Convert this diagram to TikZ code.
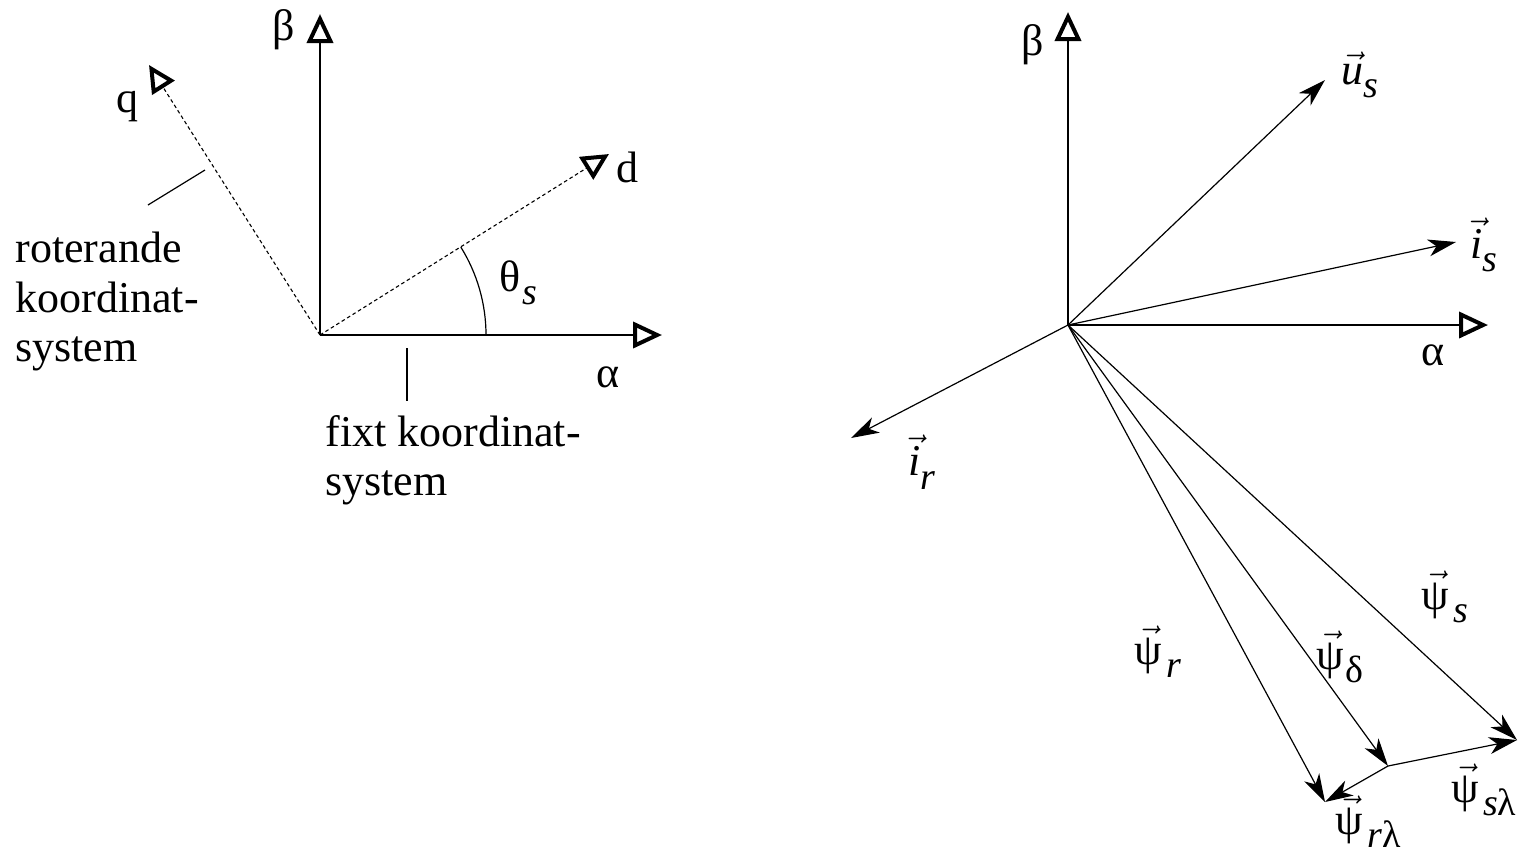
\documentclass[tikz,border=0pt]{standalone}
\usepackage{fontspec}
\setmainfont{Liberation Serif}
\usetikzlibrary{arrows.meta}
\newcommand\vect[1]{\ensuremath{\vec{\mbox{#1}}}}
\newcommand\lsub[1]{\raisebox{-0.3em}{\fontsize{19}{19}\selectfont #1}}
\tikzset{
  axisline/.style={line width=0.6pt,-{Triangle[open,length=14.5pt,width=13pt,line width=2pt]}},
  dashaxis/.style={line width=0.55pt,dash pattern=on 1.8pt off 1.4pt,-{Triangle[open,length=13.5pt,width=13pt,line width=2pt]}},
  vecline/.style={line width=0.6pt,-{Stealth[length=14pt,width=8.5pt,inset=4pt]}},
  plainline/.style={line width=0.6pt},
  lbl/.style={inner sep=0pt,font=\fontsize{22}{24.75}\selectfont},
  txtblock/.style={inner sep=0pt,align=left,font=\fontsize{22}{24.75}\selectfont}
}
\begin{document}
\begin{tikzpicture}[x=0.5pt,y=-0.5pt]
\useasboundingbox (0,0) rectangle (1521,853);
% ---------- left diagram ----------
\coordinate (O1) at (320,335);
\coordinate (B1) at (320,14);
\coordinate (A1) at (662,335);
\coordinate (D1) at (609,154);
\coordinate (Q1) at (149,65);
\coordinate (R1) at (205,170);
\coordinate (R2) at (148,205);
\coordinate (F1) at (407,348);
\coordinate (F2) at (407,401);
\coordinate (ARC) at (486,335);
\draw[axisline] (O1) -- (B1);
\draw[axisline] (O1) -- (A1);
\draw[dashaxis] (O1) -- (D1);
\draw[dashaxis] (O1) -- (Q1);
\draw[plainline] (ARC) arc[start angle=0,end angle=32,radius=83pt];
\draw[plainline] (R1) -- (R2);
\draw[plainline] (F1) -- (F2);
\node[lbl] (lb1) at (284,30) {β};
\node[lbl] (lq) at (127,107) {q};
\node[lbl] (ld) at (627,167) {d};
\node[lbl] (lth) at (518,283) {θ\kern1pt\lsub{\textit{s}}};
\node[lbl] (la1) at (608,377) {α};
\node[txtblock,anchor=north west] (rot) at (15,232) {roterande\\koordinat-\\system};
\node[txtblock,anchor=north west] (fix) at (325,415) {fixt koordinat-\\system};
% ---------- right diagram ----------
\coordinate (O2) at (1068,325);
\coordinate (B2) at (1068,12);
\coordinate (A2) at (1488,325);
\coordinate (U) at (1325,80);
\coordinate (IS) at (1456,242);
\coordinate (IR) at (851,438);
\coordinate (PS) at (1517,740);
\coordinate (PD) at (1388,766);
\coordinate (PR) at (1325,802);
\draw[axisline] (O2) -- (B2);
\draw[axisline] (O2) -- (A2);
\draw[vecline] (O2) -- (U);
\draw[vecline] (O2) -- (IS);
\draw[vecline] (O2) -- (IR);
\draw[vecline] (O2) -- (PS);
\draw[vecline] (O2) -- (PD);
\draw[vecline] (O2) -- (PR);
\draw[vecline] (PD) -- (PS);
\draw[vecline] (PD) -- (PR);
\node[lbl] (lb2) at (1033,45) {β};
\node[lbl] (la2) at (1433,355) {α};
\node[lbl] (lu) at (1360,75) {\vect{\textit{u}}\lsub{\textit{s}}};
\node[lbl] (lis) at (1484,245) {\vect{\textit{i}}\lsub{\textit{s}}};
\node[lbl] (lir) at (922,462) {\vect{\textit{i}}\lsub{\textit{r}}};
\node[lbl] (lps) at (1445,597) {\vect{ψ}\kern2pt\lsub{\textit{s}}};
\node[lbl] (lpr) at (1158,652) {\vect{ψ}\kern2pt\lsub{\textit{r}}};
\node[lbl] (lpd) at (1340,657) {\vect{ψ}\kern1pt\lsub{δ}};
\node[lbl] (lpsl) at (1484,790) {\vect{ψ}\kern2pt\lsub{\textit{s}λ}};
\node[lbl] (lprl) at (1368,822) {\vect{ψ}\kern2pt\lsub{\textit{r}λ}};
\end{tikzpicture}
\end{document}
